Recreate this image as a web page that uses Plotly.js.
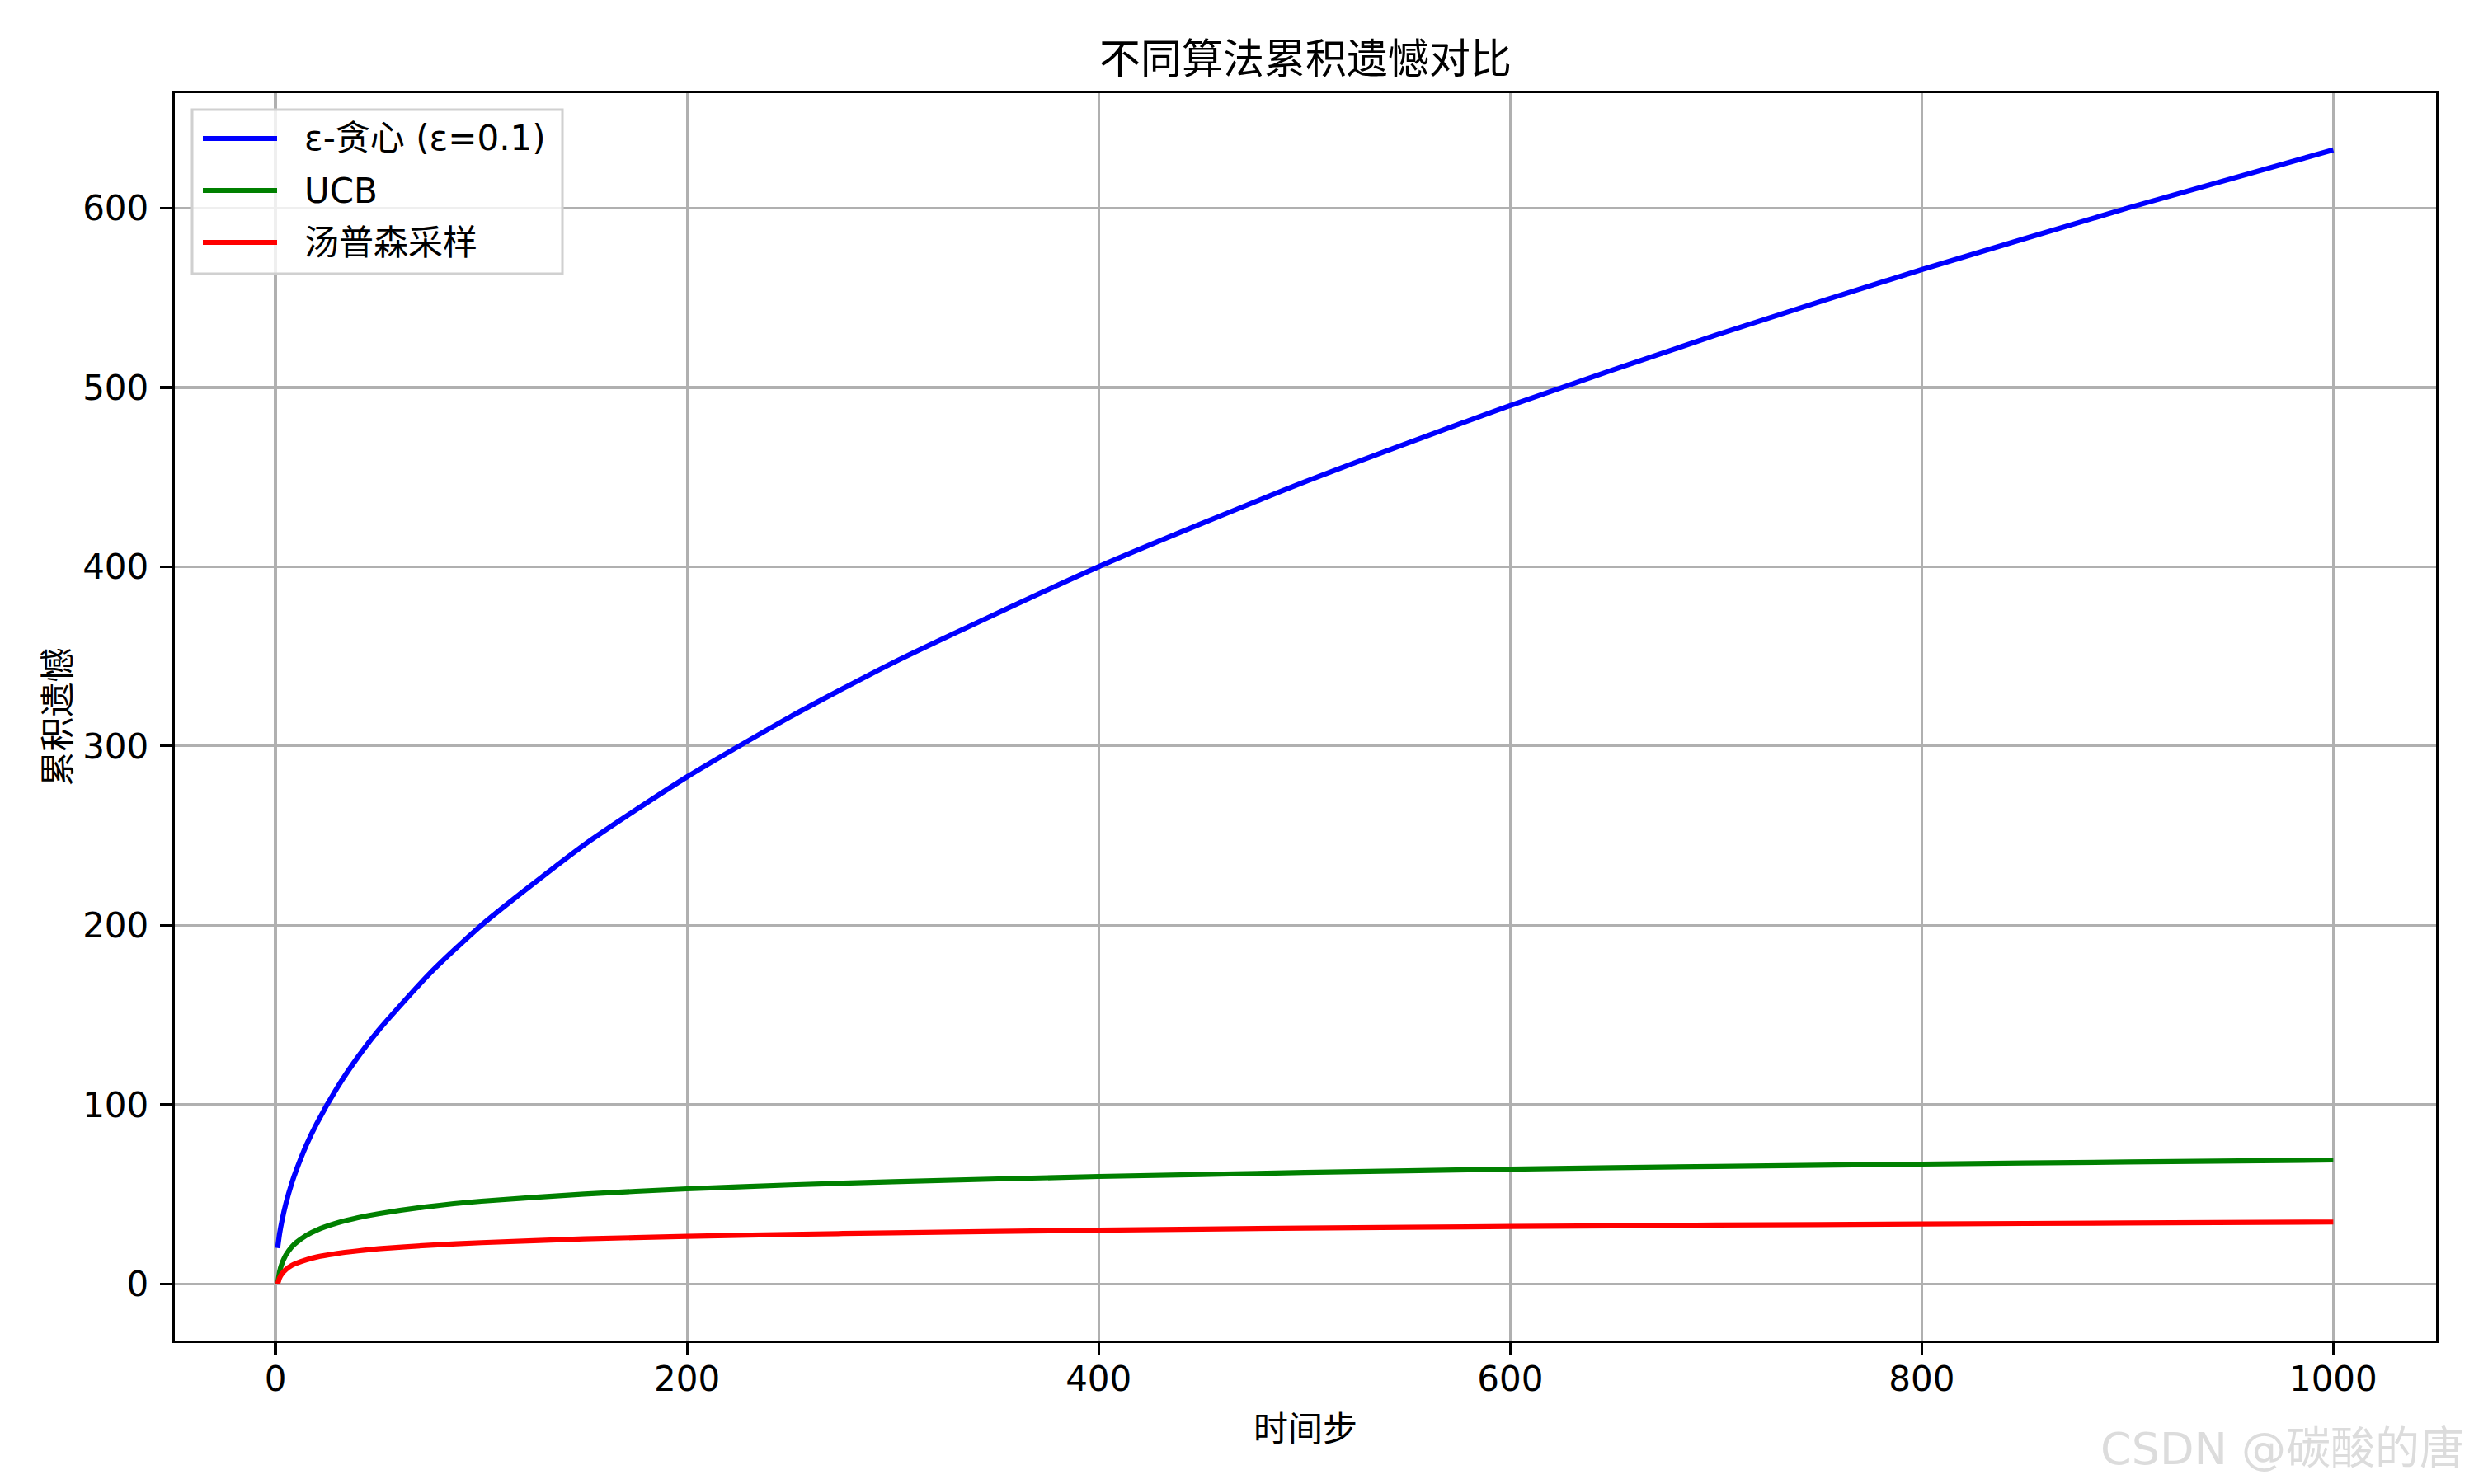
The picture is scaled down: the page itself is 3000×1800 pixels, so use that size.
<!DOCTYPE html>
<html>
<head>
<meta charset="utf-8">
<script src="https://cdn.plot.ly/plotly-3.0.1.min.js"></script>
<style>html,body{margin:0;padding:0;background:#fff;}#chart{width:3000px;height:1800px;}</style>
</head>
<body>
<div id="chart"></div>
<script>
// Time steps (x)
const steps = [1, 2, 3, 5, 8, 10, 15, 20, 30, 40, 50, 75, 100, 150, 200, 250, 300, 400, 500, 600, 700, 800, 900, 1000];
// Cumulative regret, epsilon-greedy
const epsGreedy = [20, 28.3, 34.6, 44.7, 56.6, 63.2, 77.5, 89.4, 109.5, 126.5, 141.4, 173.2, 200, 244.9, 282.8, 316.2, 346.4, 400, 447.2, 489.9, 529.2, 565.7, 600, 632.5];
// Cumulative regret, UCB
const ucb = [0, 6.9, 11, 16.1, 20.8, 23, 27.1, 30, 34, 36.9, 39.1, 43.2, 46.1, 50.1, 53, 55.2, 57, 59.9, 62.1, 64, 65.5, 66.8, 68, 69.1];
// Cumulative regret, Thompson sampling
const thompson = [0, 3.5, 5.5, 8, 10.4, 11.5, 13.5, 15, 17, 18.4, 19.6, 21.6, 23, 25.1, 26.5, 27.6, 28.5, 30, 31.1, 32, 32.8, 33.4, 34, 34.5];

const seriesNames = ["ε-贪心 (ε=0.1)", "UCB", "汤普森采样"];
const seriesColors = ["#0000ff", "#008000", "#ff0000"];
const xTicks = [0, 200, 400, 600, 800, 1000];
const yTicks = [0, 100, 200, 300, 400, 500, 600];

const titleText = "不同算法累积遗憾对比";
const xTitle = "时间步";
const yTitle = "累积遗憾";
const watermark = "CSDN @碳酸的唐";

const FONT = "DejaVu Sans, Noto Sans CJK SC, sans-serif";
const ys = [epsGreedy, ucb, thompson];
const traces = ys.map((y, i) => ({
  x: steps, y: y, type: "scatter", mode: "lines",
  name: seriesNames[i], showlegend: false,
  line: {color: seriesColors[i], width: 6.2, shape: "spline", smoothing: 0.6}
}));

// Plot-area geometry (pixels) used to place the hand-drawn legend
const PX0 = 212, PW = 2742, PY0 = 113, PH = 1513;
const px = v => (v - PX0) / PW;
const py = v => 1 - (v - PY0) / PH;

const shapes = [{
  type: "rect", xref: "paper", yref: "paper",
  x0: px(233), x1: px(682), y0: py(332), y1: py(133),
  line: {color: "#d0d0d0", width: 3}, fillcolor: "rgba(255,255,255,0.8)", layer: "above"
}];
const annotations = [];
const rowY = [168, 231, 294];
seriesNames.forEach((n, i) => {
  shapes.push({type: "line", xref: "paper", yref: "paper",
    x0: px(246), x1: px(336), y0: py(rowY[i]), y1: py(rowY[i]),
    line: {color: seriesColors[i], width: 6.2}, layer: "above"});
  annotations.push({text: n, xref: "paper", yref: "paper", x: px(367), y: py(rowY[i]),
    xanchor: "left", yanchor: "middle", showarrow: false,
    font: {family: FONT, size: 42, color: "#000"}});
});
annotations.push({
  text: watermark, xref: "paper", yref: "paper", x: 1, y: 0,
  xanchor: "right", yanchor: "middle",
  xshift: 36, yshift: -(1757 - 1626),
  showarrow: false, font: {family: FONT, size: 54, color: "#dcdcdc"}
});

const axisCommon = {
  showline: true, mirror: true, linecolor: "#000", linewidth: 3.3,
  showgrid: true, gridcolor: "#b0b0b0", gridwidth: 3.3,
  zeroline: false, ticks: "outside", ticklen: 15, tickwidth: 3.3, tickcolor: "#000",
  tickfont: {family: FONT, size: 42, color: "#000"}, automargin: false
};

const layout = {
  width: 3000, height: 1800,
  paper_bgcolor: "#fff", plot_bgcolor: "#fff",
  margin: {l: 212, r: 46, t: 113, b: 174},
  font: {family: FONT, color: "#000"},
  title: {text: titleText, font: {family: FONT, size: 50, color: "#000"}, x: 0.5, xanchor: "center", xref: "paper", y: 1 - 71/1800, yanchor: "middle"},
  xaxis: Object.assign({}, axisCommon, {
    range: [-48.95, 1049.95], tickvals: xTicks, ticktext: xTicks.map(String),
    ticklabelstandoff: -8,
    title: {text: xTitle, font: {family: FONT, size: 42, color: "#000"}, standoff: 24}
  }),
  yaxis: Object.assign({}, axisCommon, {
    range: [-31.6, 664.1], tickvals: yTicks, ticktext: yTicks.map(String),
    ticklabelstandoff: 5,
    title: {text: yTitle, font: {family: FONT, size: 42, color: "#000"}, standoff: 2}
  }),
  showlegend: false,
  shapes: shapes,
  annotations: annotations
};

Plotly.newPlot("chart", traces, layout, {displayModeBar: false, staticPlot: true});
</script>
</body>
</html>
